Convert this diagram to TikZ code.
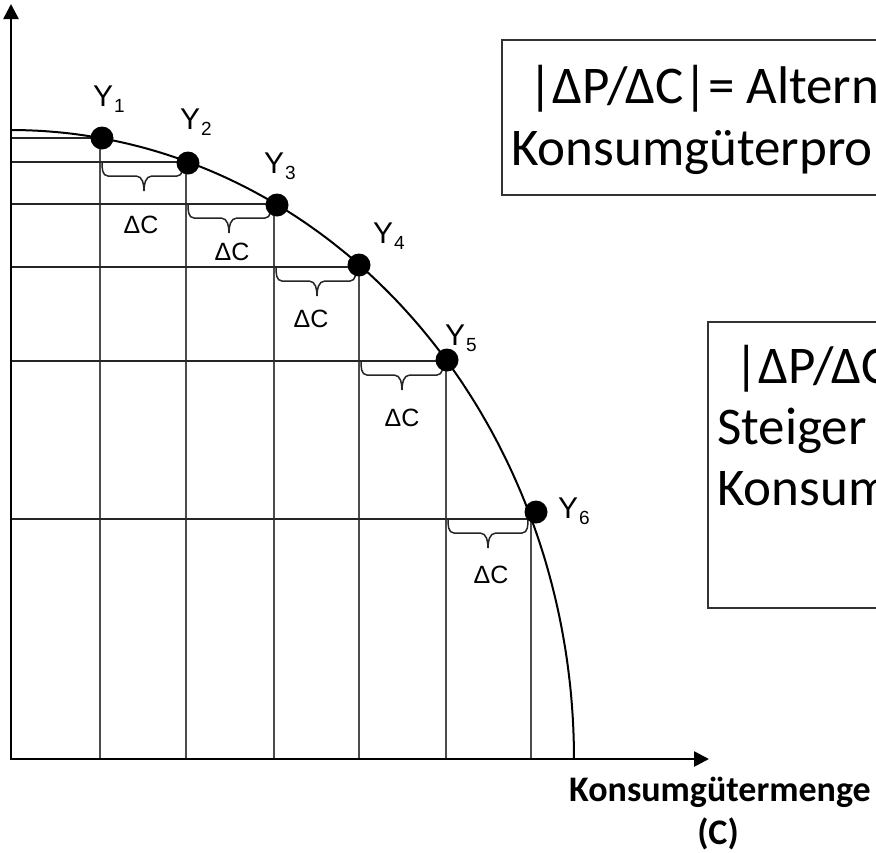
\documentclass[tikz,border=0pt]{standalone}
\usepackage{fontspec}
\setmainfont{Carlito}
\newfontfamily\arialf{Liberation Sans}
\usetikzlibrary{arrows.meta}
\newcommand\ylab[1]{{\arialf\fontsize{30}{30}\selectfont Y\kern1pt\raisebox{-6pt}{\fontsize{19}{19}\selectfont #1}}}
\newcommand\dcbrace[4]{% a, b, m, y
  \draw[bracestyle] (#1,#4) to[out=-90,in=180] ({#1+6},{#4+14}) -- ({#3-8},{#4+14})
    to[out=0,in=90] (#3,{#4+29}) to[out=90,in=180] ({#3+8},{#4+14}) -- ({#2-6},{#4+14})
    to[out=0,in=-90] (#2,#4);}
\begin{document}
\begin{tikzpicture}[x=1pt,y=-1pt,
  axisline/.style={line width=2.6pt,-{Triangle[length=15pt,width=15pt]}},
  gridh/.style={line width=1.2pt,black!85},
  gridv/.style={line width=1.2pt,black!70},
  ppf/.style={line width=2pt},
  ptdot/.style={fill=black},
  bracestyle/.style={line width=1.5pt,black!85},
  dclab/.style={anchor=base,inner sep=0pt,font=\arialf\fontsize{25}{25}\selectfont},
  ylabel/.style={anchor=base west,inner sep=0pt},
  boxline/.style={line width=1.5pt,black!80},
  boxtext/.style={anchor=base west,inner sep=0pt,font=\fontsize{53}{62}\selectfont},
  axlab/.style={anchor=base,inner sep=0pt,font=\bfseries\fontsize{36}{43}\selectfont}]
\useasboundingbox (0,0) rectangle (876,852);
\fill[white] (0,0) rectangle (876,852);
\begin{scope}
\clip (0,0) rectangle (876,852);
% grid lines
\coordinate (p1) at (100,138);
\coordinate (p2) at (186,162);
\coordinate (p3) at (274,204);
\coordinate (p4) at (359,267);
\coordinate (p5) at (446,361);
\coordinate (p6) at (531,519);
\foreach \i in {1,...,6}{
  \draw[gridh] (p\i) -- (11,0 |- p\i);
  \draw[gridv] (p\i) -- (p\i |- 0,759);
}
% curve
\draw[ppf] plot[domain=0:90,samples=120,smooth] ({11+563*cos(\x)},{759-629*sin(\x)});
% braces
\dcbrace{102}{183}{144}{162}
\dcbrace{188}{271}{229}{204}
\dcbrace{276}{356}{317}{267}
\dcbrace{361}{443}{402}{361}
\dcbrace{448}{528}{488}{519}
\node[dclab] (dc1) at (141,233) {ΔC};
\node[dclab] (dc2) at (232,260) {ΔC};
\node[dclab] (dc3) at (311,327) {ΔC};
\node[dclab] (dc4) at (402,426) {ΔC};
\node[dclab] (dc5) at (491,583) {ΔC};
% points
\fill[ptdot] (102,138) circle[radius=11.5pt];
\fill[ptdot] (188,163) circle[radius=11.5pt];
\fill[ptdot] (277,205) circle[radius=11.5pt];
\fill[ptdot] (359,265) circle[radius=11.5pt];
\fill[ptdot] (447,360) circle[radius=11.5pt];
\fill[ptdot] (536,512) circle[radius=11.5pt];
\node[ylabel] (y1) at (93,106) {\ylab{1}};
\node[ylabel] (y2) at (180,129) {\ylab{2}};
\node[ylabel] (y3) at (264,173) {\ylab{3}};
\node[ylabel] (y4) at (373,243) {\ylab{4}};
\node[ylabel] (y5) at (445,345) {\ylab{5}};
\node[ylabel] (y6) at (558,518) {\ylab{6}};
% axes
\draw[axisline] (11,760) -- (11,4);
\draw[axisline] (10,759) -- (709,759);
% boxes
\draw[boxline] (502,40) rectangle (890,195);
\node[boxtext] (b1a) at (528,103) {|ΔP/ΔC|= Altern};
\node[boxtext] (b1b) at (511,165) {Konsumgüterpro};
\draw[boxline] (708,322) rectangle (890,608);
\node[boxtext] (b2a) at (734,383) {|ΔP/ΔC};
\node[boxtext] (b2b) at (717,444) {Steiger};
\node[boxtext] (b2c) at (717,505) {Konsum};
% axis label
\node[axlab] (xl1) at (720,801) {Konsumgütermenge};
\node[axlab] (xl2) at (718,844) {(C)};
\end{scope}
\end{tikzpicture}
\end{document}
